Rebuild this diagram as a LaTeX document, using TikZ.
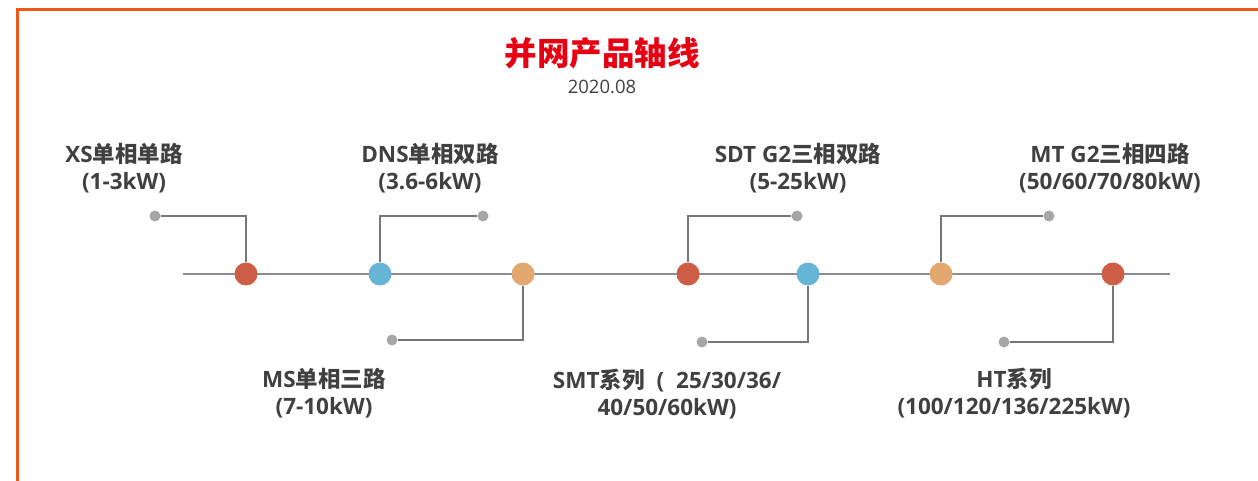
\documentclass[tikz,border=0pt]{standalone}
\usepackage{fontspec}
\setmainfont{Open Sans}
\newfontfamily\cjk{Noto Sans CJK SC}
\usetikzlibrary{backgrounds}

\definecolor{frameorange}{RGB}{240,88,26}
\definecolor{titlered}{RGB}{230,0,18}
\definecolor{textgray}{RGB}{64,64,64}
\definecolor{axisgray}{RGB}{140,140,140}
\definecolor{leadergray}{RGB}{118,118,118}
\definecolor{dotgray}{RGB}{166,166,166}
\definecolor{msred}{RGB}{205,93,70}
\definecolor{msblue}{RGB}{103,181,214}
\definecolor{msorange}{RGB}{227,168,112}

\newcommand{\zh}[1]{{\cjk #1}}

\tikzset{
  milestone/.style={circle,fill=#1,minimum size=23pt,inner sep=0pt},
  enddot/.style={circle,fill=dotgray,minimum size=11pt,inner sep=0pt},
  leader/.style={draw=leadergray,line width=1.2pt},
  label/.style={align=center,text=textgray,font=\fontsize{22.5}{27}\selectfont\bfseries}
}

\begin{document}
\begin{tikzpicture}[x=1pt,y=-1pt]
  \useasboundingbox (0,0) rectangle (1258,481);

  % Frame
  \draw[frameorange,line width=3pt] (1258,9.5) -- (17.5,9.5) -- (17.5,481);

  % Title
  \node[text=titlered,font=\cjk\fontsize{32.5}{36}\selectfont\bfseries] (title) at (602,53) {并网产品轴线};
  \node[text=textgray,font=\fontsize{18.5}{20}\selectfont] (date) at (602,87) {2020.08};

  % Milestones on the axis
  \node[milestone=msred]    (m1) at (246,274) {};
  \node[milestone=msblue]   (m2) at (380,274) {};
  \node[milestone=msorange] (m3) at (523,274) {};
  \node[milestone=msred]    (m4) at (688,274) {};
  \node[milestone=msblue]   (m5) at (808,274) {};
  \node[milestone=msorange] (m6) at (941,274) {};
  \node[milestone=msred]    (m7) at (1113,274) {};

  % Leader end dots
  \node[enddot] (d1) at (155,216) {};
  \node[enddot] (d2) at (483,216) {};
  \node[enddot] (d3) at (392,340) {};
  \node[enddot] (d4) at (797,216) {};
  \node[enddot] (d5) at (702,342) {};
  \node[enddot] (d6) at (1049,216) {};
  \node[enddot] (d7) at (1004,342) {};

  % Axis and leaders behind the circles
  \begin{scope}[on background layer]
    \coordinate (axisstart) at (183,274);
    \coordinate (axisend) at (1170,274);
    \draw[axisgray,line width=2.4pt] (axisstart) -- (axisend);
    \foreach \i in {1,...,7}
      \draw[leader] (m\i) |- (d\i);
  \end{scope}

  % Labels
  \node[label] (l1) at (124,168) {XS\zh{单相单路}\\(1-3kW)};
  \node[label] (l2) at (430,168) {DNS\zh{单相双路}\\(3.6-6kW)};
  \node[label] (l3) at (324,393) {MS\zh{单相三路}\\(7-10kW)};
  \node[label] (l4) at (667,394) {SMT\zh{系列}\hspace{12pt}(\hspace{12pt}25/30/36/\\40/50/60kW)};
  \node[label] (l5) at (798,168) {SDT G2\zh{三相双路}\\(5-25kW)};
  \node[label] (l6) at (1110,168) {MT G2\zh{三相四路}\\(50/60/70/80kW)};
  \node[label] (l7) at (1014,393) {HT\zh{系列}\\(100/120/136/225kW)};
\end{tikzpicture}
\end{document}
